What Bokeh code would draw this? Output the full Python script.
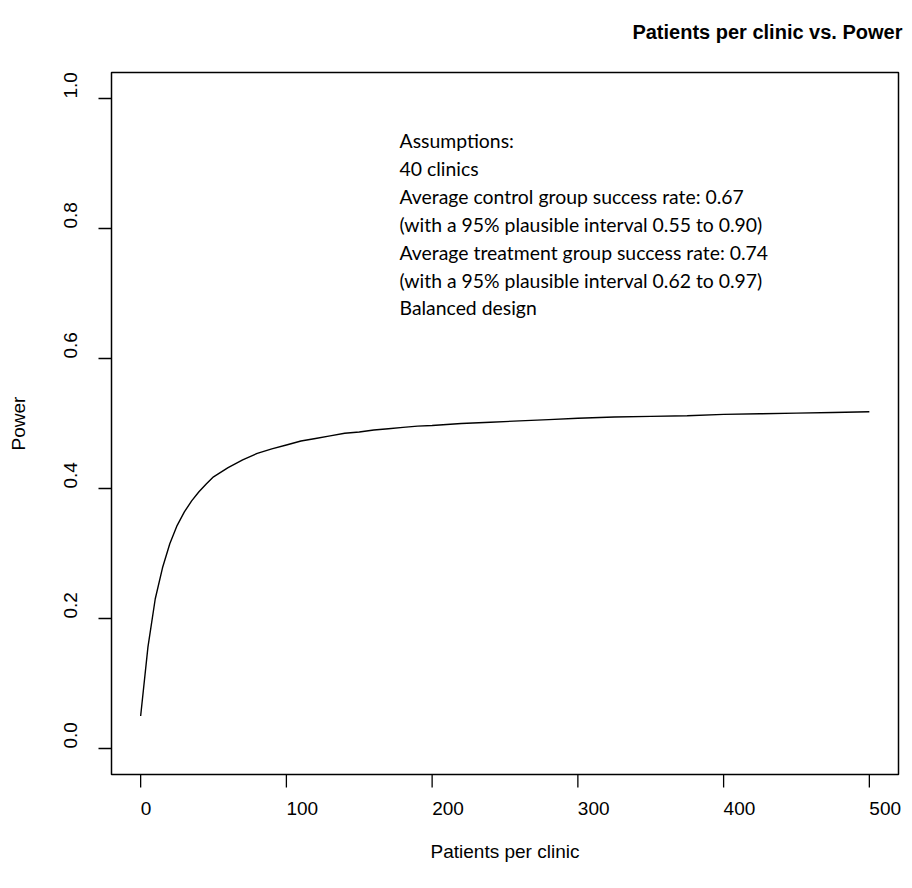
import math
from bokeh.plotting import figure
from bokeh.models import Label, Range1d
from bokeh.embed import file_html
from bokeh.resources import INLINE

# ---- data ----
patients = [0, 5, 10, 15, 20, 25, 30, 35, 40, 45, 50, 60, 70, 80, 90, 100,
            110, 120, 130, 140, 150, 160, 170, 180, 190, 200, 220, 240, 260,
            280, 300, 325, 350, 375, 400, 425, 450, 475, 500]
power = [0.050, 0.156, 0.230, 0.278, 0.315, 0.343, 0.364, 0.381, 0.395, 0.407,
         0.418, 0.432, 0.444, 0.454, 0.461, 0.467, 0.473, 0.477, 0.481, 0.485,
         0.487, 0.490, 0.492, 0.494, 0.496, 0.497, 0.500, 0.502, 0.504, 0.506,
         0.508, 0.510, 0.511, 0.512, 0.514, 0.515, 0.516, 0.517, 0.518]
x_ticks = [0, 100, 200, 300, 400, 500]
y_ticks = [0.0, 0.2, 0.4, 0.6, 0.8, 1.0]
y_tick_labels = ["0.0", "0.2", "0.4", "0.6", "0.8", "1.0"]
title_text = "Patients per clinic vs. Power"
x_label = "Patients per clinic"
y_label = "Power"
notes = ["Assumptions:",
         "40 clinics",
         "Average control group success rate: 0.67",
         "(with a 95% plausible interval 0.55 to 0.90)",
         "Average treatment group success rate: 0.74",
         "(with a 95% plausible interval 0.62 to 0.97)",
         "Balanced design"]

# ---- layout (pixels) ----
W, H = 904, 880
BL, BR, BT, BB = 111, 898, 72, 774      # plot box edges on the canvas
X0, X1 = -20, 520                       # R-style 4% padded data box
Y0, Y1 = -0.04, 1.04
TICK = 13

def px2x(px):
    return X0 + (px - BL) / (BR - BL) * (X1 - X0)

def py2y(py):
    return Y1 - (py - BT) / (BB - BT) * (Y1 - Y0)

def x2px(x):
    return BL + (x - X0) / (X1 - X0) * (BR - BL)

def y2py(y):
    return BT + (Y1 - y) / (Y1 - Y0) * (BB - BT)

# the frame spans the whole canvas, so nothing outside the box is clipped
p = figure(width=W, height=H, output_backend="svg", toolbar_location=None,
           x_range=Range1d(px2x(0), px2x(W)), y_range=Range1d(py2y(H), py2y(0)),
           x_axis_type=None, y_axis_type=None,
           min_border=0, min_border_left=0, min_border_right=0,
           min_border_top=0, min_border_bottom=0)
p.grid.visible = False
p.outline_line_color = None
p.background_fill_color = "white"
p.border_fill_color = "white"

# plot box
p.quad(left=[X0], right=[X1], bottom=[Y0], top=[Y1], fill_color=None,
       line_color="black", line_width=1.5)

# ticks
p.segment(x0=x_ticks, x1=x_ticks, y0=[Y0] * len(x_ticks),
          y1=[py2y(BB + TICK)] * len(x_ticks), line_color="black",
          line_width=1.3)
p.segment(x0=[X0] * len(y_ticks), x1=[px2x(BL - TICK)] * len(y_ticks),
          y0=y_ticks, y1=y_ticks, line_color="black", line_width=1.3)

# curve
p.line(patients, power, line_color="black", line_width=1.4)

RFONT = "Liberation Sans"

def label(px, py, text, **kw):
    p.add_layout(Label(x=px2x(px), y=py2y(py), text=text,
                       text_color="black", **kw))

for t in x_ticks:
    label(x2px(t), 808, str(t), text_align="left", text_baseline="middle",
          text_font=RFONT, text_font_size="19px")
for t, s in zip(y_ticks, y_tick_labels):
    label(70, y2py(t), s, angle=math.pi / 2, text_align="left",
          text_baseline="middle", text_font=RFONT, text_font_size="19px")

label((BL + BR) / 2, 851, x_label, text_align="center",
      text_baseline="middle", text_font=RFONT, text_font_size="19px")
label(18, (BT + BB) / 2, y_label, angle=math.pi / 2, text_align="center",
      text_baseline="middle", text_font=RFONT, text_font_size="19px")
label(902, 31, title_text, text_align="right", text_baseline="middle",
      text_font=RFONT, text_font_style="bold", text_font_size="20px")

for i, line in enumerate(notes):
    label(399, 140 + 27.9 * i, line, text_align="left",
          text_baseline="middle", text_font="Lato", text_font_size="19.4px")

open("out.html", "w").write(file_html(p, INLINE))
